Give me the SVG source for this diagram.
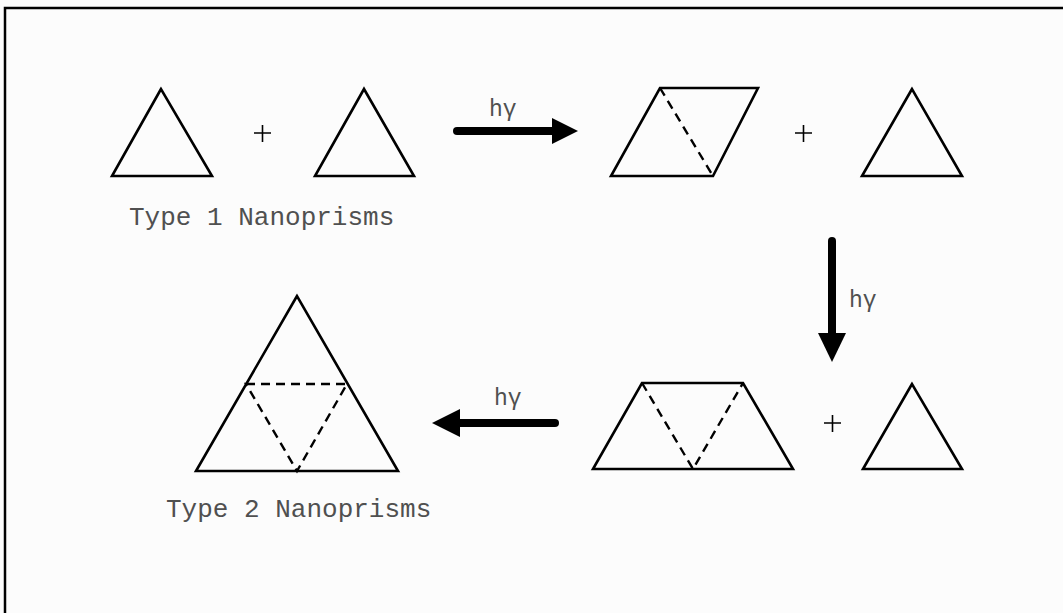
<svg xmlns="http://www.w3.org/2000/svg" width="1063" height="613" viewBox="0 0 1063 613">
<style>
.shape{fill:none;stroke:#000;stroke-width:2.6;stroke-linejoin:miter}
.dash{fill:none;stroke:#000;stroke-width:2.4;stroke-dasharray:9 6}
.lbl{font-family:"Liberation Mono","Courier New",monospace;font-size:26px;fill:#505050}
.hv{font-family:"Liberation Mono","Courier New",monospace;font-size:23px;fill:#505050}
.arr{stroke:#000;stroke-width:8;stroke-linecap:round;fill:none}
.plus{stroke:#000;stroke-width:1.6}
</style>
<rect width="1063" height="613" fill="#fcfcfc"/>
<path d="M5,613 V8 H1063" fill="none" stroke="#000" stroke-width="2.5"/>
<g id="tri1"><polygon class="shape" points="161,89 112,176 212,176"/></g>
<g id="plus1"><path class="plus" d="M254,133 H271 M262.5,125 V142"/></g>
<g id="tri2"><polygon class="shape" points="364,89 315,176 414,176"/></g>
<g id="label1"><text class="lbl" x="129" y="225">Type 1 Nanoprisms</text></g>
<g id="para"><polygon class="shape" points="660,88 758,88 713,176 611,176"/><line class="dash" x1="660" y1="88" x2="713" y2="176"/></g>
<g id="plus2"><path class="plus" d="M795,133 H812 M803.5,125 V142"/></g>
<g id="tri3"><polygon class="shape" points="912,89 862,176 962,176"/></g>
<g id="trap"><polygon class="shape" points="642,383 743,383 793,469 593,469"/><polyline class="dash" points="642,383 693,469 743,383"/></g>
<g id="plus3"><path class="plus" d="M824,423 H841 M832.5,415 V432"/></g>
<g id="tri4"><polygon class="shape" points="912,384 863,469 962,469"/></g>
<g id="big"><polygon class="shape" points="297,296 196,471 398,471"/><polygon class="dash" points="246,384 347,384 297,471"/></g>
<g id="label2"><text class="lbl" x="166" y="517">Type 2 Nanoprisms</text></g>
<g id="connectors">
<line class="arr" x1="457" y1="131" x2="555" y2="131"/>
<polygon points="552,118 578,131 552,144" fill="#000"/>
<text class="hv" x="489" y="116">hγ</text>
<line class="arr" x1="832" y1="241" x2="832" y2="336"/>
<polygon points="818,333 846,333 832,362" fill="#000"/>
<text class="hv" x="849" y="307">hγ</text>
<line class="arr" x1="555" y1="423" x2="457" y2="423"/>
<polygon points="460,409 432,423 460,437" fill="#000"/>
<text class="hv" x="494" y="405">hγ</text>
</g>
</svg>
